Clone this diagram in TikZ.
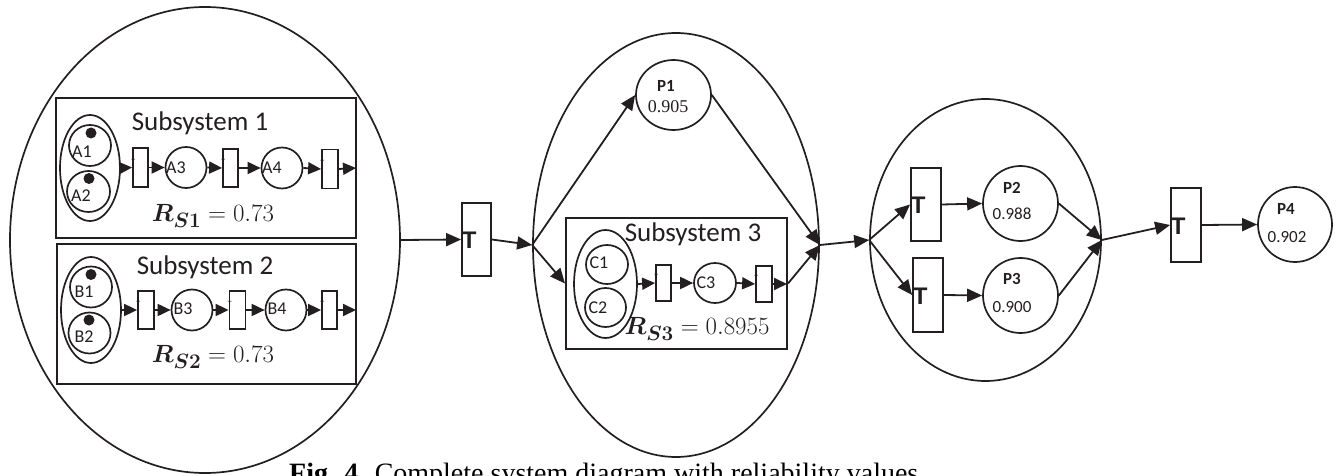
\documentclass[tikz,border=0pt]{standalone}
\usepackage{fontspec}
\setmainfont{Liberation Serif}
\newfontfamily\calib{Carlito}
\newfontfamily\arialf{Liberation Sans}
\usepackage{amsmath,bm}
\usetikzlibrary{arrows.meta,shapes.geometric}
\definecolor{ink}{HTML}{231F20}
\begin{document}
\begin{tikzpicture}[x=1pt,y=-1pt,
  ell/.style={draw=ink,ellipse,inner sep=0pt,line width=1.7pt},
  box/.style={draw=ink,rectangle,inner sep=0pt,line width=2pt},
  tr/.style={draw=ink,rectangle,inner sep=0pt,line width=1.8pt},
  tok/.style={circle,fill=ink,draw=none,inner sep=0pt,minimum size=11pt},
  arr/.style={draw=ink,-{Triangle[length=15pt,width=13pt]},line width=1.8pt},
  sarr/.style={draw=ink,-{Triangle[length=13pt,width=12pt]},line width=1.8pt},
  plbl/.style={font=\calib\fontsize{18}{18}\selectfont,inner sep=0pt,text=ink},
  title/.style={font=\calib\fontsize{27}{27}\selectfont,inner sep=0pt,text=ink},
  rel/.style={font=\fontsize{31}{31}\selectfont,inner sep=0pt,text=ink},
  bigT/.style={font=\arialf\bfseries\fontsize{24}{24}\selectfont,inner sep=0pt,anchor=west,text=ink},
  tinyT/.style={font=\calib\fontsize{8}{8}\selectfont,inner sep=0pt,anchor=south west,text=ink},
  pname/.style={font=\calib\bfseries\fontsize{17}{17}\selectfont,inner sep=0pt,text=ink},
  pval/.style={font=\calib\fontsize{17}{17}\selectfont,inner sep=0pt,text=ink},
]
\useasboundingbox (0,0) rectangle (1342,476);

% ---------- left big ellipse ----------
\node[ell,minimum width=390pt,minimum height=466pt] (E1) at (205,240) {};
\node[box,minimum width=300pt,minimum height=140pt] (S1) at (206,168) {};
\node[box,minimum width=299pt,minimum height=140pt] (S2) at (206.5,314) {};

% Subsystem 1
\node[title] (S1t) at (200,123) {Subsystem 1};
\node[ell,minimum width=60pt,minimum height=106pt] (EA) at (90,168) {};
\node[ell,minimum width=42pt,minimum height=41pt] (A1) at (90,145.5) {};
\node[ell,minimum width=43pt,minimum height=41pt] (A2) at (88.5,191.5) {};
\node[tok] (kA1) at (91,133) {};
\node[tok] (kA2) at (89,178.5) {};
\node[plbl] (lA1) at (82,152) {A1};
\node[plbl] (lA2) at (81,196) {A2};
\node[tr,minimum width=15pt,minimum height=39pt] (Ta1) at (140.5,167.5) {};
\node[ell,minimum width=41pt,minimum height=41pt] (A3) at (186,167.5) {};
\node[plbl] (lA3) at (176,168) {A3};
\node[tr,minimum width=15pt,minimum height=38pt] (Ta2) at (230.5,168) {};
\node[ell,minimum width=41pt,minimum height=41pt] (A4) at (282,168) {};
\node[plbl] (lA4) at (272,168) {A4};
\node[tr,minimum width=16pt,minimum height=39pt] (Ta3) at (330,169) {};
\coordinate (S1out) at (356,168);
\node[tinyT] (ta1) at ([shift={(-1,-3)}]Ta1.west) {T};
\node[tinyT] (ta2) at ([shift={(-1,-3)}]Ta2.west) {T};
\node[tinyT] (ta3) at ([shift={(-1,-3)}]Ta3.west) {T};
\draw[sarr] (EA.east) -- (Ta1.west);
\draw[sarr] (Ta1.east) -- (A3.west);
\draw[sarr] (A3.east) -- (Ta2.west);
\draw[sarr] (Ta2.east) -- (A4.west);
\draw[sarr] (A4.east) -- (Ta3.west);
\draw[sarr] (Ta3.east) -- (S1out);
\begin{scope}
  \clip (56,98) rectangle (356,227);
  \node[rel] (R1) at (213,216) {$\bm{R}_{\bm{S1}}=0.73$};
\end{scope}

% Subsystem 2
\node[title] (S2t) at (205,267) {Subsystem 2};
\node[ell,minimum width=60pt,minimum height=106pt] (EB) at (91,310) {};
\node[ell,minimum width=42pt,minimum height=41pt] (B1) at (91,287) {};
\node[ell,minimum width=42pt,minimum height=41pt] (B2) at (89.5,333) {};
\node[tok] (kB1) at (91,274.5) {};
\node[tok] (kB2) at (89,320) {};
\node[plbl] (lB1) at (84,292) {B1};
\node[plbl] (lB2) at (84,337) {B2};
\node[tr,minimum width=16pt,minimum height=38pt] (Tb1) at (146,310) {};
\node[ell,minimum width=41pt,minimum height=41pt] (B3) at (192,310) {};
\node[plbl] (lB3) at (183,309) {B3};
\node[tr,minimum width=16pt,minimum height=38pt] (Tb2) at (237.5,310) {};
\node[ell,minimum width=41pt,minimum height=41pt] (B4) at (286,310) {};
\node[plbl] (lB4) at (277,309) {B4};
\node[tr,minimum width=15pt,minimum height=38pt] (Tb3) at (329.5,310) {};
\coordinate (S2out) at (356,310);
\node[tinyT] (tb1) at ([shift={(-1,-3)}]Tb1.west) {T};
\node[tinyT] (tb2) at ([shift={(-1,-3)}]Tb2.west) {T};
\node[tinyT] (tb3) at ([shift={(-1,-3)}]Tb3.west) {T};
\draw[sarr] (EB.east) -- (Tb1.west);
\draw[sarr] (Tb1.east) -- (B3.west);
\draw[sarr] (B3.east) -- (Tb2.west);
\draw[sarr] (Tb2.east) -- (B4.west);
\draw[sarr] (B4.east) -- (Tb3.west);
\draw[sarr] (Tb3.east) -- (S2out);
\node[rel] (R2) at (213,357) {$\bm{R}_{\bm{S2}}=0.73$};

% ---------- first T ----------
\node[tr,minimum width=29pt,minimum height=73pt] (Tm) at (476.5,239.5) {};
\node[bigT] (Tml) at ([xshift=0.5pt,yshift=-1pt]Tm.west) {T};
\draw[arr] (E1.east) -- (Tm.west);

% ---------- middle ellipse ----------
\node[ell,minimum width=286pt,minimum height=424pt] (E2) at (676,245) {};
\coordinate (J1) at (E2.west);
\coordinate (J2) at (E2.east);
\draw[arr] (Tm.east) -- (J1);
\node[ell,minimum width=75pt,minimum height=70pt] (P1) at (673.5,95) {};
\node[pname] (lP1) at (666,86) {P1};
\node[font=\fontsize{18}{18}\selectfont,inner sep=0pt,text=ink] (vP1) at (668,107) {0.905};
\node[box,minimum width=221pt,minimum height=131pt] (S3) at (676.5,283.5) {};
\draw[arr] (J1) -- (P1.west);
\draw[arr] (J1) -- (S3.west);
\draw[arr] (P1.east) -- (J2);
\draw[arr] (S3.east) -- (J2);

% Subsystem 3
\node[title] (S3t) at (693,234) {Subsystem 3};
\node[ell,minimum width=63pt,minimum height=108pt] (EC) at (605.5,284) {};
\node[ell,minimum width=42pt,minimum height=39pt] (C1) at (607,264.5) {};
\node[ell,minimum width=41pt,minimum height=39pt] (C2) at (605.5,307.5) {};
\node[plbl] (lC1) at (599,263) {C1};
\node[plbl] (lC2) at (598,308) {C2};
\node[tr,minimum width=15pt,minimum height=36pt] (Tc1) at (663.5,283) {};
\node[ell,minimum width=42pt,minimum height=40pt] (C3) at (715,283) {};
\node[plbl] (lC3) at (706,283) {C3};
\node[tr,minimum width=16pt,minimum height=36pt] (Tc2) at (764,284) {};
\coordinate (S3out) at (787,284);
\node[tinyT] (tc1) at ([shift={(-1,-3)}]Tc1.west) {T};
\node[tinyT] (tc2) at ([shift={(-1,-3)}]Tc2.west) {T};
\draw[sarr] (EC.east) -- (Tc1.west);
\draw[sarr] (Tc1.east) -- (C3.west);
\draw[sarr] (C3.east) -- (Tc2.west);
\draw[sarr] (Tc2.east) -- (S3out);
\node[rel] (R3) at (697,329) {$\bm{R}_{\bm{S3}}=0.8955$};

% ---------- right ellipse ----------
\node[ell,minimum width=231pt,minimum height=282pt] (E3) at (985.5,240) {};
\coordinate (J3) at (E3.west);
\coordinate (J4) at (E3.east);
\draw[arr] (J2) -- (J3);
\node[tr,minimum width=30pt,minimum height=73pt] (Tu) at (926,204.5) {};
\node[tr,minimum width=30pt,minimum height=74pt] (Tl) at (928,295) {};
\node[bigT] (Tul) at ([xshift=0.5pt,yshift=-1pt]Tu.west) {T};
\node[bigT] (Tll) at ([xshift=0.5pt,yshift=-1pt]Tl.west) {T};
\node[ell,minimum width=75pt,minimum height=75pt] (P2) at (1020.5,203.5) {};
\node[ell,minimum width=75pt,minimum height=75pt] (P3) at (1020.5,295.5) {};
\node[pname] (lP2) at (1012,188) {P2};
\node[pval] (vP2) at (1012,214) {0.988};
\node[pname] (lP3) at (1012,279) {P3};
\node[pval] (vP3) at (1012,307) {0.900};
\draw[arr] (J3) -- (Tu.west);
\draw[arr] (J3) -- (Tl.west);
\draw[arr] (Tu.east) -- (P2.west);
\draw[arr] (Tl.east) -- (P3.west);
\draw[arr] (P2.east) -- (J4);
\draw[arr] (P3.east) -- (J4);

% ---------- final T and P4 ----------
\node[tr,minimum width=30pt,minimum height=74pt] (Tf) at (1186,225) {};
\node[bigT] (Tfl) at ([xshift=0.5pt,yshift=-1pt]Tf.west) {T};
\node[ell,minimum width=74pt,minimum height=75pt] (P4) at (1295,224.5) {};
\node[pname] (lP4) at (1286,209) {P4};
\node[pval] (vP4) at (1287,237) {0.902};
\draw[arr] (J4) -- (Tf.west);
\draw[arr] (Tf.east) -- (P4.west);

% ---------- caption ----------
\node[anchor=base west,inner sep=0pt,font=\fontsize{28}{28}\selectfont,text=black] (cap) at (289,482)
  {\textbf{Fig. 4.} Complete system diagram with reliability values};
\end{tikzpicture}
\end{document}
